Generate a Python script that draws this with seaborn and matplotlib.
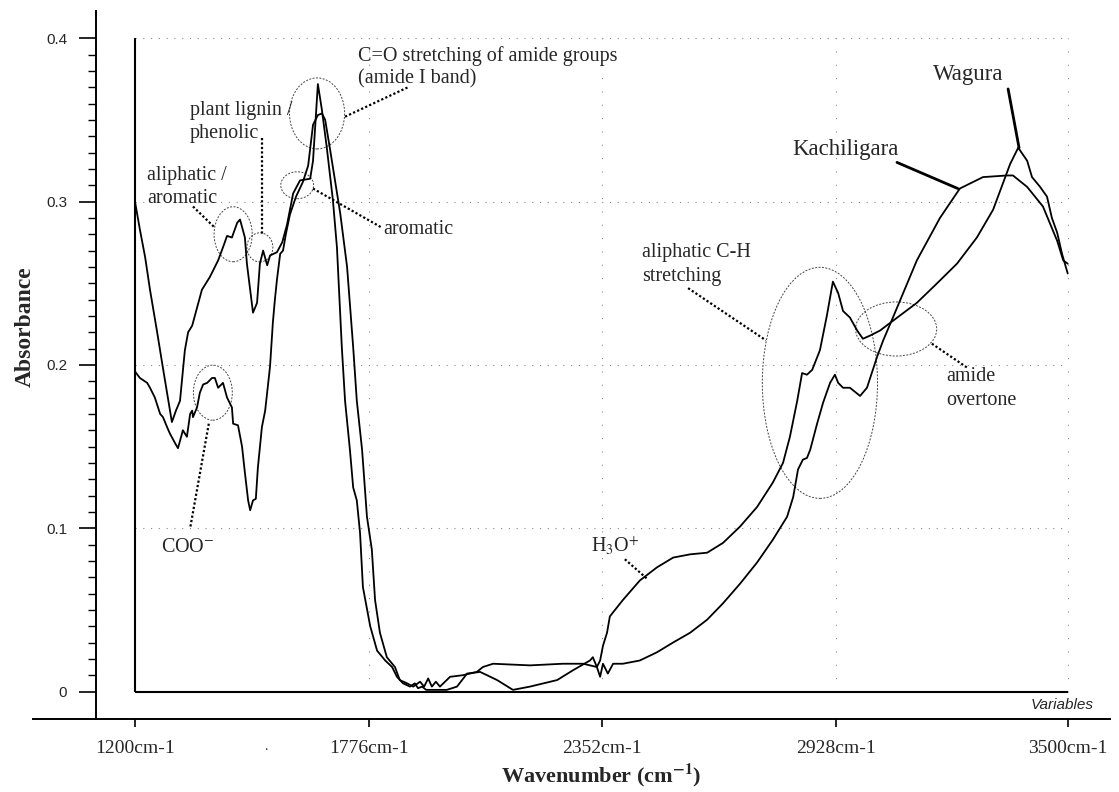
import numpy as np
import pandas as pd
import seaborn as sns
import matplotlib.pyplot as plt
from matplotlib.patches import Ellipse

# -----------------------------------
# Spectra (wavenumber in cm-1, absorbance)
# -----------------------------------
wagura_wn = [1200, 1212, 1225, 1237, 1254, 1269, 1281, 1291, 1301, 1311, 1323, 1331, 1341, 1353,
             1365, 1385, 1405, 1417, 1427, 1439, 1452, 1459, 1471, 1476, 1484, 1491, 1501, 1508,
             1516, 1526, 1533, 1550, 1563, 1575, 1590, 1607, 1632, 1639, 1651, 1661, 1673, 1688,
             1698, 1710, 1718, 1730, 1738, 1747, 1755, 1762, 1780, 1797, 1817, 1834, 1846, 1861,
             1878, 1890, 1898, 1908, 1918, 1940, 1969, 1994, 2019, 2051, 2093, 2132, 2174, 2241,
             2280, 2322, 2329, 2339, 2347, 2354, 2364, 2371, 2403, 2445, 2487, 2527, 2569, 2611,
             2650, 2692, 2734, 2773, 2798, 2815, 2833, 2845, 2857, 2870, 2889, 2906, 2921, 2934,
             2946, 2963, 2981, 2995, 3013, 3037, 3069, 3128, 3178, 3227, 3276, 3316, 3340, 3358,
             3378, 3400, 3412, 3432, 3449, 3461, 3474, 3486, 3500]
wagura_abs = [0.300, 0.283, 0.266, 0.246, 0.221, 0.198, 0.180, 0.165, 0.172, 0.178, 0.209, 0.220,
              0.224, 0.235, 0.246, 0.254, 0.264, 0.272, 0.279, 0.278, 0.287, 0.289, 0.278, 0.262,
              0.246, 0.232, 0.238, 0.262, 0.270, 0.261, 0.267, 0.269, 0.275, 0.286, 0.305, 0.313,
              0.314, 0.325, 0.372, 0.356, 0.333, 0.301, 0.272, 0.211, 0.178, 0.148, 0.125, 0.117,
              0.097, 0.064, 0.040, 0.025, 0.019, 0.015, 0.009, 0.005, 0.003, 0.005, 0.002, 0.003,
              0.001, 0.001, 0.001, 0.003, 0.011, 0.012, 0.007, 0.001, 0.003, 0.007, 0.013, 0.019,
              0.021, 0.015, 0.019, 0.028, 0.036, 0.046, 0.056, 0.068, 0.076, 0.082, 0.084, 0.085,
              0.091, 0.101, 0.113, 0.128, 0.140, 0.156, 0.178, 0.195, 0.194, 0.197, 0.209, 0.230,
              0.251, 0.244, 0.233, 0.229, 0.221, 0.216, 0.218, 0.221, 0.227, 0.238, 0.250, 0.262,
              0.278, 0.295, 0.311, 0.323, 0.333, 0.325, 0.315, 0.309, 0.303, 0.290, 0.281, 0.268,
              0.256]

kachi_wn = [1200, 1212, 1230, 1237, 1249, 1262, 1269, 1279, 1286, 1299, 1306, 1316, 1318, 1328,
            1336, 1341, 1343, 1353, 1360, 1368, 1378, 1390, 1397, 1405, 1417, 1427, 1439, 1442,
            1454, 1464, 1471, 1479, 1484, 1491, 1498, 1503, 1513, 1521, 1533, 1540, 1545, 1550,
            1558, 1565, 1572, 1582, 1597, 1614, 1627, 1639, 1651, 1661, 1669, 1681, 1706, 1723,
            1738, 1747, 1760, 1772, 1784, 1792, 1804, 1821, 1841, 1853, 1871, 1886, 1903, 1913,
            1923, 1932, 1942, 1952, 1977, 2009, 2043, 2058, 2083, 2174, 2255, 2305, 2339, 2347,
            2354, 2366, 2379, 2403, 2445, 2487, 2527, 2569, 2611, 2650, 2692, 2734, 2773, 2808,
            2823, 2835, 2847, 2857, 2865, 2882, 2897, 2914, 2926, 2934, 2946, 2963, 2988, 3005,
            3030, 3045, 3069, 3128, 3185, 3234, 3291, 3350, 3365, 3400, 3439, 3474, 3489, 3500]
kachi_abs = [0.196, 0.192, 0.189, 0.186, 0.180, 0.170, 0.168, 0.162, 0.158, 0.152, 0.149, 0.158,
             0.160, 0.156, 0.170, 0.172, 0.168, 0.174, 0.183, 0.188, 0.189, 0.192, 0.192, 0.186,
             0.189, 0.180, 0.174, 0.164, 0.163, 0.150, 0.134, 0.117, 0.111, 0.117, 0.118, 0.137,
             0.162, 0.172, 0.199, 0.226, 0.240, 0.252, 0.268, 0.270, 0.280, 0.292, 0.303, 0.312,
             0.322, 0.347, 0.353, 0.354, 0.350, 0.332, 0.293, 0.260, 0.211, 0.178, 0.148, 0.107,
             0.087, 0.056, 0.036, 0.021, 0.015, 0.007, 0.005, 0.003, 0.006, 0.003, 0.008, 0.003,
             0.006, 0.003, 0.009, 0.010, 0.012, 0.015, 0.017, 0.016, 0.017, 0.017, 0.015, 0.009,
             0.017, 0.011, 0.017, 0.017, 0.019, 0.024, 0.030, 0.036, 0.044, 0.054, 0.066, 0.079,
             0.093, 0.107, 0.119, 0.136, 0.142, 0.143, 0.148, 0.164, 0.177, 0.189, 0.194, 0.189,
             0.186, 0.186, 0.181, 0.186, 0.205, 0.215, 0.229, 0.264, 0.290, 0.308, 0.315, 0.316,
             0.316, 0.309, 0.297, 0.276, 0.264, 0.262]

tick_wn = [1200, 1776, 2352, 2928, 3500]
tick_labels = ["1200cm-1", "1776cm-1", "2352cm-1", "2928cm-1", "3500cm-1"]
abs_ticks = [0, 0.1, 0.2, 0.3, 0.4]
abs_labels = ["0", "0.1", "0.2", "0.3", "0.4"]

df = pd.concat([
    pd.DataFrame({"wn": wagura_wn, "abs": wagura_abs, "sample": "Wagura"}),
    pd.DataFrame({"wn": kachi_wn, "abs": kachi_abs, "sample": "Kachiligara"}),
])

sns.set_theme(style="white")
plt.rcParams["font.family"] = ["Liberation Serif", "DejaVu Serif"]
plt.rcParams["mathtext.fontset"] = "stix"

W, H = 1119, 792
fig = plt.figure(figsize=(W / 100, H / 100), dpi=100)
ax = fig.add_axes([33 / W, 1 - 719 / H, (1110 - 33) / W, (719 - 11) / H])
ax.set_xlim(948.5, 3604.3)
ax.set_ylim(-0.01684, 0.41672)

# dotted grid inside the plot box
grid_kw = dict(color="#8a8a8a", linewidth=0.8)
ax.hlines(abs_ticks[1:], 1200, 3500, linestyles=[(0, (1, 6))], **grid_kw)
ax.vlines(tick_wn[1:], 0, 0.4, linestyles=[(0, (1, 11))], **grid_kw)

# inner frame
ax.vlines(1200, 0, 0.4, color="black", linewidth=1.5)
ax.hlines(0, 1200, 3500, color="black", linewidth=1.5)

sns.lineplot(data=df, x="wn", y="abs", hue="sample", units="sample", estimator=None,
             sort=False, palette={"Wagura": "black", "Kachiligara": "black"},
             linewidth=1.3, legend=False, ax=ax)

# outer axes
for s in ["top", "right"]:
    ax.spines[s].set_visible(False)
ax.spines["left"].set_position(("data", 1103))
ax.spines["left"].set_linewidth(1.4)
ax.spines["bottom"].set_linewidth(1.4)
ax.spines["left"].set_color("black")
ax.spines["bottom"].set_color("black")

ax.set_yticks(abs_ticks)
ax.set_yticklabels(abs_labels)
ax.set_yticks(np.arange(0, 0.4001, 0.01), minor=True)
ax.set_xticks(tick_wn)
ax.set_xticklabels(tick_labels)
ax.tick_params(axis="y", which="major", direction="out", length=12.5, width=1.2,
               pad=8, labelsize=11, left=True, color="black")
ax.tick_params(axis="y", which="minor", direction="out", length=6, width=1.0,
               left=True, color="black")
ax.tick_params(axis="x", which="major", direction="out", length=6, width=1.2,
               pad=9, labelsize=14, bottom=True, color="black")
for lbl in ax.get_yticklabels():
    lbl.set_fontfamily("Liberation Sans")
ax.set_xlabel("")
ax.set_ylabel("")
ax.grid(False)

# ellipses around bands
ell_kw = dict(fill=False, edgecolor="#444444", linewidth=0.7, linestyle=(0, (2, 1.5)))
for cx, cy, ew, eh in [(1649, 0.354, 136, 0.0435), (1600, 0.310, 81, 0.0165),
                       (1442, 0.280, 94, 0.0337), (1508, 0.272, 64, 0.0178),
                       (1392, 0.183, 96, 0.0337), (2889, 0.189, 284, 0.1415),
                       (3077, 0.222, 200, 0.0331)]:
    ax.add_patch(Ellipse((cx, cy), ew, eh, **ell_kw))

# dotted leader lines
lead_kw = dict(color="black", linewidth=1.6, linestyle=(0, (1, 1)))
for (x0, y0), (x1, y1) in [((1718, 0.352), (1873, 0.370)), ((1513, 0.339), (1513, 0.280)),
                           ((1343, 0.297), (1397, 0.284)), ((1639, 0.308), (1809, 0.284)),
                           ((1382, 0.164), (1336, 0.100)), ((2408, 0.081), (2463, 0.069)),
                           ((2564, 0.247), (2756, 0.215)), ((3165, 0.213), (3254, 0.198))]:
    ax.plot([x0, x1], [y0, y1], **lead_kw)

# solid pointers for the sample names
ax.plot([3079, 3229], [0.324, 0.308], color="black", linewidth=2)
ax.plot([3353, 3380], [0.369, 0.333], color="black", linewidth=2)

tk = dict(fontsize=14.5, va="center", ha="left")
ax.text(1750, 0.389, "C=O stretching of amide groups", **tk)
ax.text(1750, 0.375, "(amide I band)", **tk)
ax.text(1336, 0.356, "plant lignin /", **tk)
ax.text(1336, 0.342, "phenolic", **tk)
ax.text(1230, 0.316, "aliphatic /", **tk)
ax.text(1230, 0.302, "aromatic", **tk)
ax.text(1812, 0.283, "aromatic", **tk)
ax.text(1331, 0.088, r"COO$^{-}$", fontsize=14.5, va="center", ha="center")
ax.text(2384, 0.089, r"H$_{3}$O$^{+}$", fontsize=14.5, va="center", ha="center")
ax.text(2450, 0.269, "aliphatic C-H", **tk)
ax.text(2450, 0.254, "stretching", **tk)
ax.text(3200, 0.193, "amide", **tk)
ax.text(3200, 0.178, "overtone", **tk)
ax.text(2820, 0.332, "Kachiligara", fontsize=16.5, va="center", ha="left")
ax.text(3168, 0.378, "Wagura", fontsize=16.5, va="center", ha="left")
ax.text(3486, -0.0083, "Variables", fontsize=11, style="italic", family="Liberation Sans",
        va="center", ha="center")

fig.text(266 / W, 1 - 747 / H, ".", fontsize=10, ha="center", va="center")
fig.text(25 / W, 1 - 327 / H, "Absorbance", rotation=90, fontsize=17, fontweight="bold",
         ha="center", va="center")
fig.text(601 / W, 1 - 775 / H, r"Wavenumber (cm$^{\mathbf{-1}}$)", fontsize=16,
         fontweight="bold", ha="center", va="center")

fig.savefig("out.png", dpi=100, facecolor="white")
